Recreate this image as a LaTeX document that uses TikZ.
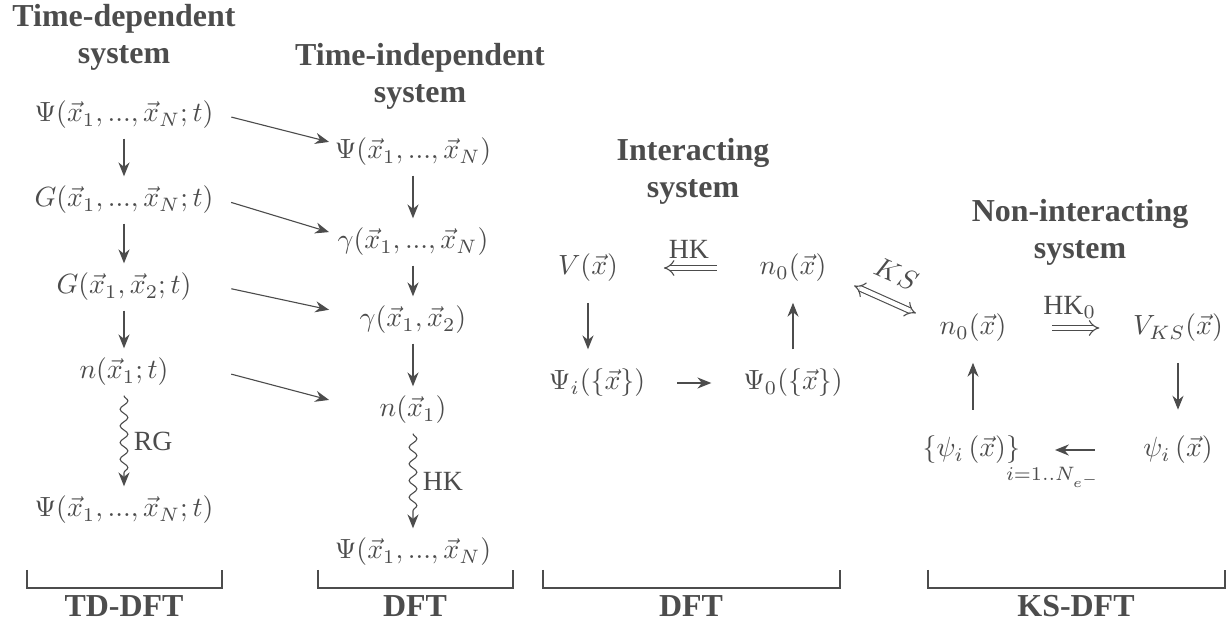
\documentclass[tikz,border=0pt]{standalone}
\usepackage{amsmath, amssymb, mathtools}
\usepackage[no-math]{fontspec}
\setmainfont{Liberation Serif}
\usepackage{tikz}
\usepackage{xcolor}
\usetikzlibrary{arrows.meta, decorations.pathmorphing}
\definecolor{ink}{gray}{0.3}

\begin{document}
\begin{tikzpicture}[x=0.36pt, y=-0.36pt, color=ink, >={Stealth[length=5pt,width=4pt]},
  head/.style={font=\bfseries\fontsize{11.5}{13.3}\selectfont, align=center},
  wiggle/.style={->, decorate, decoration={snake, amplitude=1.4pt, segment length=6pt, post length=4pt}},
  dbl/.style={double, double distance=1.6pt, -Implies}]
\useasboundingbox (0,0) rectangle (1231,623);

\node[head] (t1) at (124,37) {Time-dependent\\system};
\node[head] (t2) at (420,76) {Time-independent\\system};
\node[head] (t3) at (693,171) {Interacting\\system};
\node[head] (t4) at (1080,232) {Non-interacting\\system};

\node (a1) at (124,115) {$\Psi(\vec{x}_1,...,\vec{x}_N;t)$};
\node (a2) at (124,200) {$G(\vec{x}_1,...,\vec{x}_N;t)$};
\node (a3) at (124,287) {$G(\vec{x}_1,\vec{x}_2;t)$};
\node (a4) at (124,372) {$n(\vec{x}_1;t)$};
\node (a5) at (124,510) {$\Psi(\vec{x}_1,...,\vec{x}_N;t)$};

\node (b1) at (413,152) {$\Psi(\vec{x}_1,...,\vec{x}_N)$};
\node (b2) at (413,242) {$\gamma(\vec{x}_1,...,\vec{x}_N)$};
\node (b3) at (413,320) {$\gamma(\vec{x}_1,\vec{x}_2)$};
\node (b4) at (413,410) {$n(\vec{x}_1)$};
\node (b5) at (413,552) {$\Psi(\vec{x}_1,...,\vec{x}_N)$};

\node (c1) at (588,268) {$V(\vec{x})$};
\node (c2) at (793,268) {$n_0(\vec{x})$};
\node (c3) at (597,383) {$\Psi_i(\{\vec{x}\})$};
\node (c4) at (793,383) {$\Psi_0(\{\vec{x}\})$};

\node (d1) at (973,328) {$n_0(\vec{x})$};
\node (d2) at (1178,328) {$V_{KS}(\vec{x})$};
\node (d3) at (1178,450) {$\psi_i\left(\vec{x}\right)$};
\node[anchor=base] (d4) at (972,457) {$\left\{\psi_i\left(\vec{x}\right)\right\}_{\mathrlap{\kern-5pt\raisebox{-5.5pt}{$\scriptstyle i=1..N_{e^-}$}}}$};

\foreach \i/\j in {1/2,2/3,3/4} {
  \draw[->] (a\i) -- (a\j);
  \draw[->] (b\i) -- (b\j);
}
\foreach \i in {1,...,4}
  \draw[->, shorten <=3pt, shorten >=-1.5pt] (a\i.east-|a1.east) -- ([yshift=4pt]b\i.west-|b1.west);
\draw[wiggle] (a4) -- node[right] {RG} (a5);
\draw[wiggle] (b4) -- node[right] {HK} (b5);

\draw[dbl, shorten <=12pt, shorten >=13pt] (c2) -- node[above] {HK} (c1);
\draw[->, shorten <=4pt, shorten >=3.6pt] (c1) -- (c1|-c3.north);
\draw[->, shorten <=8pt, shorten >=8pt] (c3) -- (c4);
\draw[->, shorten <=3.6pt, shorten >=4pt] (c4) -- (c2);

\draw[dbl, {Implies}-{Implies}] ([shift={(18,-6)}]c2.south east) -- node[above=3pt, sloped] {$KS$} ([shift={(-14,9)}]d1.north west);

\draw[dbl, shorten <=13pt, shorten >=8.6pt] (d1) -- node[above] {HK$_0$} (d2);
\draw[->, shorten <=4pt, shorten >=6pt] (d2) -- (d3);
\draw[->, shorten <=14pt, shorten >=8.6pt] (d3.west) -- (d4.east|-d3.west);
\draw[->, shorten <=6pt, shorten >=4pt] (d1|-d4.north) -- (d1);

\draw (27,570) |- (222,588) -- (222,570);
\draw (318,570) |- (513,588) -- (513,570);
\draw (543,570) |- (840,588) -- (840,570);
\draw (928,570) |- (1225,588) -- (1225,570);
\node[head] (l1) at (124,606) {TD-DFT};
\node[head] (l2) at (415,606) {DFT};
\node[head] (l3) at (691,606) {DFT};
\node[head] (l4) at (1076,606) {KS-DFT};
\end{tikzpicture}
\end{document}
